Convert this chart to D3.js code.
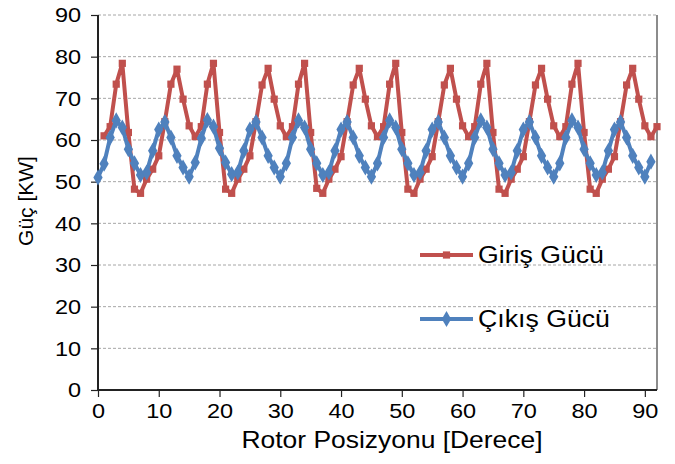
<!DOCTYPE html>
<html>
<head>
<meta charset="utf-8">
<script src="https://cdn.jsdelivr.net/npm/d3@7"></script>
<style>
  body { margin: 0; background: #fff; }
  text { font-family: "Liberation Sans", Arial, sans-serif; fill: #000; }
</style>
</head>
<body>
<div id="canvas"></div>
<script>
// rotor angle (degrees) for each series
const girisX = d3.range(1, 93);
const cikisX = d3.range(0, 92);

// input power [kW], one value per degree, 1..92
const girisGucu = [
  61.0, 63.2, 73.4, 78.4, 61.8, 48.2, 47.2, 50.6, 53.0, 56.2, 64.4, 73.4, 77.0, 69.8, 63.4,
  60.8, 63.2, 73.4, 78.4, 61.8, 48.2, 47.2, 50.6, 53.0, 56.2, 64.4, 73.2, 77.2, 69.8, 63.4,
  60.8, 63.2, 73.4, 78.4, 61.8, 48.4, 47.2, 50.6, 53.0, 56.0, 64.4, 73.2, 77.2, 69.8, 63.4,
  60.8, 63.2, 73.4, 78.4, 61.8, 48.2, 47.2, 50.6, 53.0, 56.0, 64.4, 73.2, 77.2, 69.8, 63.4,
  60.8, 63.2, 73.4, 78.4, 61.8, 48.2, 47.2, 50.6, 53.0, 56.0, 64.4, 73.2, 77.2, 69.8, 63.4,
  60.8, 63.2, 73.4, 78.4, 61.8, 48.2, 47.2, 50.6, 53.0, 56.0, 64.4, 73.2, 77.2, 69.8, 63.4,
  60.8, 63.2
];

// output power [kW], one value per degree, 0..91
const cikisGucu = [
  51.0, 54.3, 60.6, 64.7, 63.0, 57.8, 54.4, 51.6, 52.2, 57.4, 62.5, 64.3, 60.6, 56.2, 53.4,
  51.2, 54.6, 60.4, 64.8, 63.2, 58.0, 54.6, 51.8, 52.2, 57.4, 62.5, 64.3, 60.6, 56.2, 53.4,
  51.2, 54.4, 60.6, 64.7, 63.0, 57.8, 54.4, 51.6, 52.2, 57.4, 62.5, 64.3, 60.6, 56.2, 53.4,
  51.2, 54.4, 60.6, 64.7, 63.0, 57.8, 54.4, 51.6, 52.2, 57.4, 62.5, 64.3, 60.6, 56.2, 53.4,
  51.2, 54.4, 60.6, 64.7, 63.0, 57.8, 54.4, 51.6, 52.2, 57.4, 62.5, 64.3, 60.6, 56.2, 53.4,
  51.2, 54.4, 60.6, 64.7, 63.0, 57.8, 54.4, 51.6, 52.2, 57.4, 62.5, 64.3, 60.6, 56.2, 53.4,
  51.2, 54.8
];

const xTicks = [0, 10, 20, 30, 40, 50, 60, 70, 80, 90];
const yTicks = [0, 10, 20, 30, 40, 50, 60, 70, 80, 90];
const seriesNames = ["Giriş Gücü", "Çıkış Gücü"];

const width = 675;
const height = 464;
const margin = { top: 15, left: 98, bottom: 74, right: 18 };
const iwidth = width - margin.left - margin.right;
const iheight = height - margin.top - margin.bottom;

const svg = d3.select("#canvas").append("svg")
  .attr("width", width)
  .attr("height", height);

const g = svg.append("g")
  .attr("transform", `translate(${margin.left},${margin.top})`);

const x = d3.scaleLinear().domain([0, 92]).range([0, iwidth]);
const y = d3.scaleLinear().domain([0, 90]).range([iheight, 0]);

// dashed horizontal grid
g.append("g")
  .selectAll("line")
  .data(yTicks.filter((d) => d > 0))
  .enter()
  .append("line")
  .attr("x1", 0)
  .attr("x2", iwidth)
  .attr("y1", (d) => y(d))
  .attr("y2", (d) => y(d))
  .attr("stroke", "#a6a6a6")
  .attr("stroke-width", 1)
  .attr("stroke-dasharray", "3,2");

// right frame
g.append("line")
  .attr("x1", iwidth).attr("x2", iwidth)
  .attr("y1", 0).attr("y2", iheight)
  .attr("stroke", "#8c8c8c")
  .attr("stroke-width", 2);

const xAxis = g.append("g")
  .attr("transform", `translate(0,${iheight})`)
  .call(d3.axisBottom(x).tickValues(xTicks).tickSize(7).tickPadding(6));
const yAxis = g.append("g")
  .call(d3.axisLeft(y).tickValues(yTicks).tickSize(7).tickPadding(8));

[xAxis, yAxis].forEach((a) => {
  a.select(".domain").attr("stroke", "#222").attr("stroke-width", 2);
  a.selectAll(".tick line").attr("stroke", "#222").attr("stroke-width", 1.2);
  a.selectAll(".tick text")
    .style("font-family", "'Liberation Sans', Arial, sans-serif")
    .style("font-size", "21px")
    .attr("fill", "#000")
    .attr("transform", "scale(1.12,1)");
});
xAxis.select(".domain").attr("d", `M0,0H${iwidth}`);
yAxis.select(".domain").attr("d", `M0,${iheight}V0`);

const colors = ["#c0504d", "#4f81bd"];
const series = [
  girisX.map((d, i) => ({ x: d, y: girisGucu[i] })),
  cikisX.map((d, i) => ({ x: d, y: cikisGucu[i] }))
];

const line = d3.line().x((d) => x(d.x)).y((d) => y(d.y));
const symType = [d3.symbolSquare, d3.symbolDiamond];
const symSize = [52, 75];

// output series is drawn on top
[0, 1].forEach((s) => {
  g.append("path")
    .datum(series[s])
    .attr("fill", "none")
    .attr("stroke", colors[s])
    .attr("stroke-width", 4)
    .attr("stroke-linejoin", "round")
    .attr("d", line);

  g.append("g")
    .selectAll("path")
    .data(series[s])
    .enter()
    .append("path")
    .attr("transform", (d) => `translate(${x(d.x)},${y(d.y)})`)
    .attr("d", d3.symbol().type(symType[s]).size(symSize[s]))
    .attr("fill", colors[s]);
});

// legend
const legendY = [255, 319];
seriesNames.forEach((name, i) => {
  const lg = svg.append("g").attr("transform", `translate(420,${legendY[i]})`);
  lg.append("line")
    .attr("x1", 0).attr("x2", 53)
    .attr("stroke", colors[i])
    .attr("stroke-width", 4);
  lg.append("path")
    .attr("transform", "translate(26.5,0)")
    .attr("d", d3.symbol().type(symType[i]).size(symSize[i]))
    .attr("fill", colors[i]);
  lg.append("text")
    .attr("transform", "translate(58,8) scale(1.16,1)")
    .style("font-size", "23px")
    .text(name);
});

// axis titles
svg.append("text")
  .attr("transform", `translate(${margin.left + 294},448) scale(1.15,1)`)
  .attr("text-anchor", "middle")
  .style("font-size", "23px")
  .text("Rotor Posizyonu [Derece]");

svg.append("text")
  .attr("transform", `translate(33,${margin.top + 186}) rotate(-90)`)
  .attr("text-anchor", "middle")
  .style("font-size", "21px")
  .text("Güç [KW]");
</script>
</body>
</html>
